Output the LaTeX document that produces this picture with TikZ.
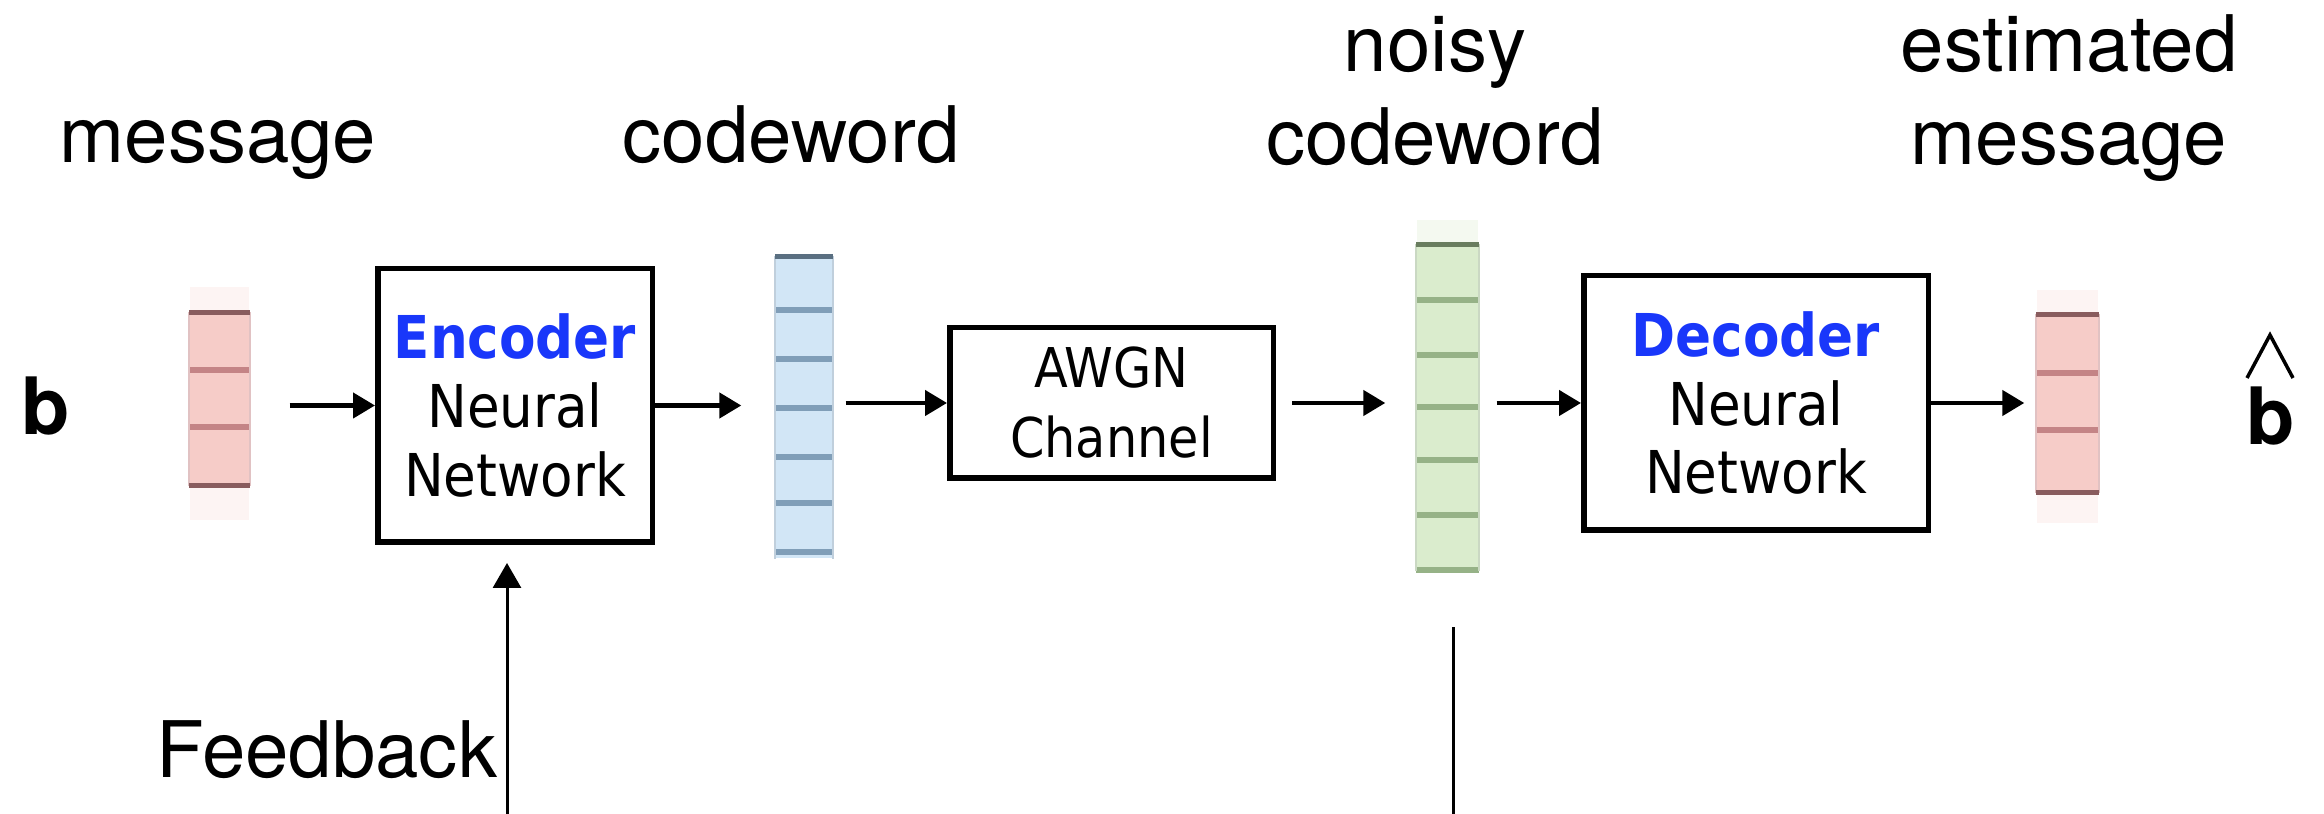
\documentclass[tikz,border=0pt]{standalone}
\usepackage{fontspec}
\setmainfont{TeX Gyre Heros}
\newfontfamily\boxfont{DejaVu Sans Condensed}[BoldFont={DejaVu Sans Condensed Bold}]
\usetikzlibrary{arrows.meta}

\definecolor{encblue}{RGB}{25,55,250}
\definecolor{msgfill}{RGB}{246,204,200}
\definecolor{msgline}{RGB}{196,132,134}
\definecolor{cwfill}{RGB}{210,230,246}
\definecolor{cwline}{RGB}{128,158,184}
\definecolor{ncwfill}{RGB}{218,236,205}
\definecolor{ncwline}{RGB}{150,178,135}

\tikzset{
  lbl/.style={font=\fontsize{22.2}{26.5}\selectfont, align=center, inner sep=0pt},
  bx/.style={draw, line width=0.55mm, inner sep=0pt, align=center,
             font=\boxfont\fontsize{16.8}{19.6}\selectfont},
  arr/.style={line width=0.45mm, -{Triangle[length=2.2mm,width=2.5mm]}},
  fbline/.style={line width=0.3mm},
  vec/.style={inner sep=0pt, minimum width=5.9mm},
  cell/.style={line width=0.55mm},
}

\begin{document}
\begin{tikzpicture}[x=0.1mm, y=-0.1mm]
\useasboundingbox (0,0) rectangle (2324,814);

% ---- vectors ----
% message
\fill[msgfill!22] (190,287) rectangle (249,520);
\node[vec, fill=msgfill, minimum height=17.2mm] (msg) at (219.5,399) {};
\foreach \y in {370,427}
  \draw[cell, msgline] (msg.west |- 0,\y) -- (msg.east |- 0,\y);
\draw[msgline!50, line width=0.2mm] (msg.north west) -- (msg.south west)
      (msg.north east) -- (msg.south east);
\draw[cell, msgline!70!black] (msg.north west) -- (msg.north east);
\draw[cell, msgline!70!black] (msg.south west) -- (msg.south east);

% codeword
\node[vec, fill=cwfill, minimum width=5.6mm, minimum height=30.1mm] (cw) at (804,407.5) {};
\foreach \y in {310,359,408,457,503,552}
  \draw[cell, cwline] (cw.west |- 0,\y) -- (cw.east |- 0,\y);
\draw[cwline!50, line width=0.2mm] (cw.north west) -- (cw.south west)
      (cw.north east) -- (cw.south east);
\draw[cell, cwline!70!black] (cw.north west) -- (cw.north east);

% noisy codeword
\fill[ncwfill!30] (1417,220) rectangle (1478,245);
\node[vec, fill=ncwfill, minimum width=6.1mm, minimum height=32.5mm] (ncw) at (1447.5,407.5) {};
\foreach \y in {300,355,407,460,515,570}
  \draw[cell, ncwline] (ncw.west |- 0,\y) -- (ncw.east |- 0,\y);
\draw[ncwline!50, line width=0.2mm] (ncw.north west) -- (ncw.south west)
      (ncw.north east) -- (ncw.south east);
\draw[cell, ncwline!70!black] (ncw.north west) -- (ncw.north east);

% estimated message
\fill[msgfill!22] (2037,290) rectangle (2098,523);
\node[vec, fill=msgfill, minimum width=6.1mm, minimum height=17.7mm] (est) at (2067.5,403.5) {};
\foreach \y in {373,430}
  \draw[cell, msgline] (est.west |- 0,\y) -- (est.east |- 0,\y);
\draw[msgline!50, line width=0.2mm] (est.north west) -- (est.south west)
      (est.north east) -- (est.south east);
\draw[cell, msgline!70!black] (est.north west) -- (est.north east);
\draw[cell, msgline!70!black] (est.south west) -- (est.south east);

% ---- blocks ----
\node[bx, minimum width=27.45mm, minimum height=27.35mm] (enc) at (515,405.5)
  {{\color{encblue}\bfseries Encoder}\\Neural\\Network};
\node[bx, font=\boxfont\fontsize{15.6}{19.9}\selectfont,
      minimum width=32.35mm, minimum height=15.05mm] (awgn) at (1111.5,403)
  {AWGN\\Channel};
\node[bx, minimum width=34.45mm, minimum height=25.45mm] (dec) at (1756,403)
  {{\color{encblue}\bfseries Decoder}\\Neural\\Network};

% ---- labels (base = baseline of the last line) ----
\node[lbl, anchor=base] (lmsg) at (218,163) {message};
\node[lbl, anchor=base] (lcw) at (791,163) {codeword};
\node[lbl, anchor=base] (lncw) at (1435,165) {noisy\\codeword};
\node[lbl, anchor=base] (lest) at (2069,165) {estimated\\message};
\node[lbl, anchor=base east] (lfb) at (498,778) {Feedback};

\node[inner sep=0pt, anchor=base, font=\fontsize{22.5}{27}\selectfont\bfseries] (bin) at (46,435) {b};
\node[inner sep=0pt, anchor=base, font=\fontsize{22.5}{27}\selectfont\bfseries] (bhat) at (2271,445) {b};
\draw[line width=0.35mm, line join=miter] (2247,378) -- (2270,335) -- (2293,378);

% ---- forward chain ----
\draw[arr, shorten <=4mm] (msg.east |- enc.west) -- (enc.west);
\draw[arr, shorten >=3.4mm] (enc.east) -- (enc.east -| cw.west);
\draw[arr, shorten <=1.3mm] (cw.east |- awgn.west) -- (awgn.west);
\draw[arr, shorten <=1.6mm, shorten >=3.1mm] (awgn.east) -- (awgn.east -| ncw.west);
\draw[arr, shorten <=1.8mm] (ncw.east |- dec.west) -- (dec.west);
\draw[arr, shorten >=1.2mm] (dec.east) -- (dec.east -| est.west);

% ---- feedback path ----
\coordinate (fbsrc) at (507,814);
\draw[fbline, -{Triangle[length=2.5mm,width=2.8mm]}, shorten >=1.8mm] (fbsrc) -- (fbsrc |- enc.south);
\coordinate (nsrc) at (1453,814);
\coordinate (ntop) at (1453,627);
\draw[fbline] (nsrc) -- (ntop);
\end{tikzpicture}
\end{document}
